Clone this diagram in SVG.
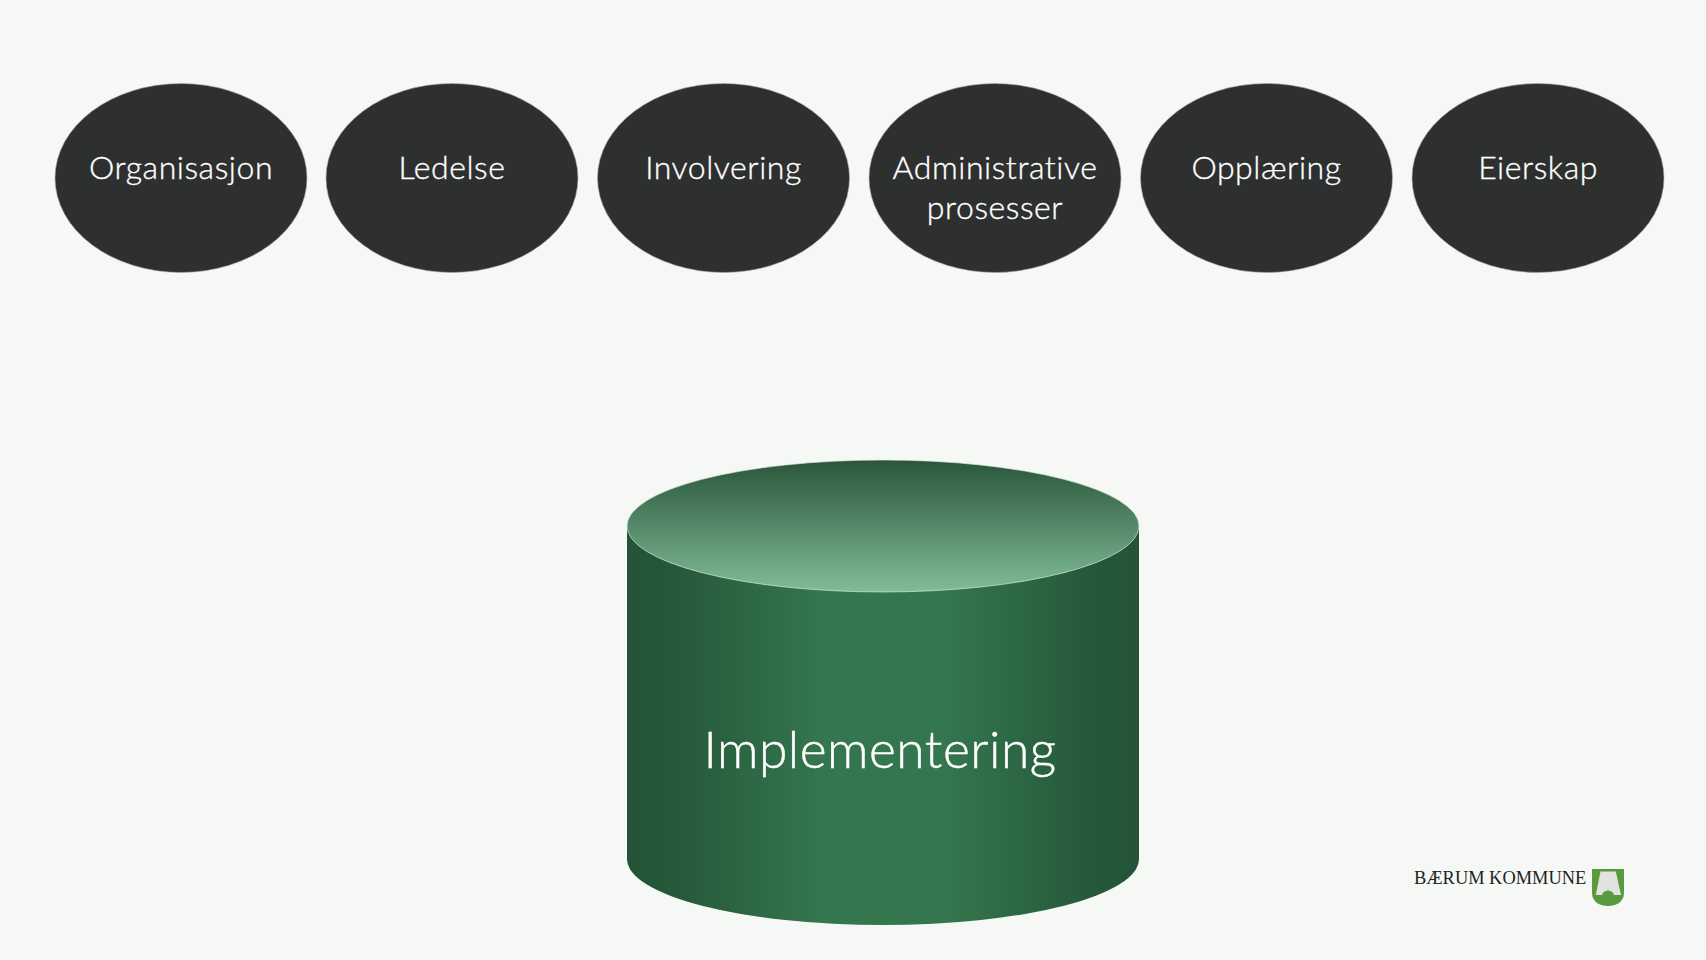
<svg xmlns="http://www.w3.org/2000/svg" width="1706" height="960" viewBox="0 0 1706 960">
<style>
.n ellipse{fill:#2e3030;stroke:#a8aaa8;stroke-width:.6}
.l{font-family:"Lato","Noto Sans",sans-serif;font-weight:300;font-size:32px;letter-spacing:.55px;font-variant-ligatures:none;fill:#fff;stroke:#fff;stroke-width:.35px;text-anchor:middle}
</style>
<defs>
<linearGradient id="body" x1="0" x2="1" y1="0" y2="0"><stop offset="0" stop-color="#235437"/><stop offset=".08" stop-color="#255739"/><stop offset=".38" stop-color="#34764d"/><stop offset=".62" stop-color="#34764d"/><stop offset=".92" stop-color="#255739"/><stop offset="1" stop-color="#235437"/></linearGradient>
<linearGradient id="top" x1="0" x2="0" y1="0" y2="1"><stop offset="0" stop-color="#2a553a"/><stop offset=".06" stop-color="#2f5c40"/><stop offset="1" stop-color="#80bc97"/></linearGradient>
</defs>
<rect width="1706" height="960" fill="#f5f8f5"/>
<g id="connectors"/>
<g id="n1" class="n"><ellipse cx="181" cy="178" rx="126" ry="94.5"/><text class="l" x="181" y="178.5">Organisasjon</text></g>
<g id="n2" class="n"><ellipse cx="452" cy="178" rx="126" ry="94.5"/><text class="l" x="452" y="178.5">Ledelse</text></g>
<g id="n3" class="n"><ellipse cx="723.5" cy="178" rx="126" ry="94.5"/><text class="l" x="723.5" y="178.5">Involvering</text></g>
<g id="n4" class="n"><ellipse cx="995" cy="178" rx="126" ry="94.5"/><text class="l" x="995" y="178.5">Administrative</text><text class="l" x="995" y="218.5">prosesser</text></g>
<g id="n5" class="n"><ellipse cx="1266.5" cy="178" rx="126" ry="94.5"/><text class="l" x="1266.5" y="178.5">Opplæring</text></g>
<g id="n6" class="n"><ellipse cx="1538" cy="178" rx="126" ry="94.5"/><text class="l" x="1538" y="178.5">Eierskap</text></g>
<g id="cyl">
<path d="M627 526V859A256 66 0 0 0 1139 859V526Z" fill="url(#body)"/>
<ellipse cx="883" cy="526" rx="256" ry="66" fill="url(#top)" stroke="#eaf3ec" stroke-width=".6"/>
<text x="880" y="768" font-family="Lato,'Noto Sans',sans-serif" font-weight="300" font-size="51.5" letter-spacing=".5" fill="#fff" stroke="#fff" stroke-width=".45" text-anchor="middle" style="font-variant-ligatures:none">Implementering</text>
</g>
<g id="logo">
<text x="1414" y="884" font-family="'Liberation Serif',serif" font-size="18.4" fill="#222">BÆRUM KOMMUNE</text>
<path d="M1592 869H1624V893C1624 902 1616 906 1608 906C1600 906 1592 902 1592 893Z" fill="#5a9a3e"/>
<path d="M1600.5 871.5H1615.8L1621 895H1614C1613 889 1603 889 1602 895H1595.8Z" fill="#e2e2e0"/>
</g>
</svg>
